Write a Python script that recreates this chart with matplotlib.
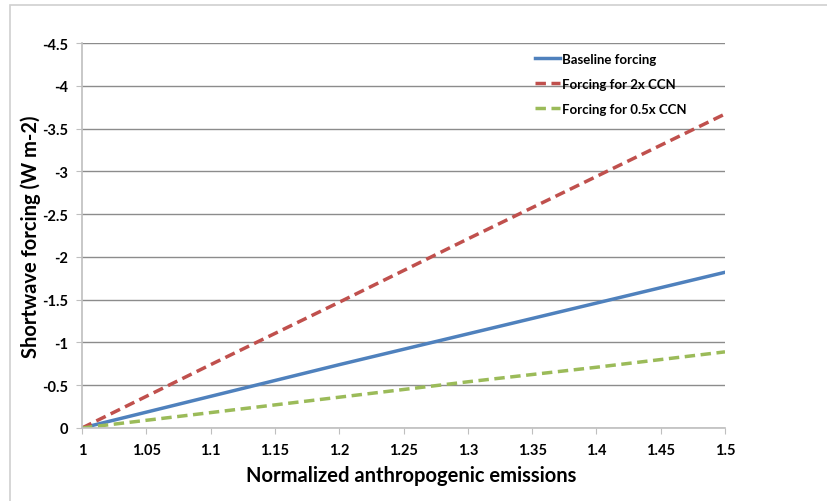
import matplotlib.pyplot as plt
from matplotlib.patches import Rectangle

# data
emissions = [1.0, 1.1, 1.2, 1.3, 1.4, 1.5]
baseline = [0.0, -0.37, -0.74, -1.10, -1.46, -1.82]
ccn_2x = [0.0, -0.74, -1.47, -2.21, -2.94, -3.67]
ccn_half = [0.0, -0.18, -0.36, -0.54, -0.71, -0.89]

plt.rcParams['font.family'] = ['Lato', 'DejaVu Sans']
plt.rcParams['font.weight'] = 'bold'

fig = plt.figure(figsize=(8.27, 5.02), dpi=100)
fig.patches.append(Rectangle((10/827, -0.1), 1.2, 1 - 6/502 + 0.1, transform=fig.transFigure,
                             fill=False, edgecolor='#d0d0d0', linewidth=1.2))
ax = fig.add_axes([82/827, 1 - 429/502, (725 - 82)/827, (429 - 44)/502])

ax.plot(emissions, baseline, color='#4f81bd', linewidth=2.5, label='Baseline forcing')
ax.plot(emissions, ccn_2x, color='#c0504d', linewidth=2.5, linestyle=(0, (3, 1.6)), label='Forcing for 2x CCN')
ax.plot(emissions, ccn_half, color='#9bbb59', linewidth=2.5, linestyle=(0, (3, 1.6)), label='Forcing for 0.5x CCN')

ax.set_xlim(1, 1.5)
ax.set_ylim(0, -4.5)
ax.set_xticks([1 + 0.05*i for i in range(11)])
ax.set_xticklabels(['1', '1.05', '1.1', '1.15', '1.2', '1.25', '1.3', '1.35', '1.4', '1.45', '1.5'])
ax.set_yticks([-0.5*i for i in range(10)])
ax.set_yticklabels(['0', '-0.5', '-1', '-1.5', '-2', '-2.5', '-3', '-3.5', '-4', '-4.5'])
ax.grid(axis='y', color='#8c8c8c', linewidth=1)
ax.set_axisbelow(True)
for s in ['top', 'right']:
    ax.spines[s].set_visible(False)
ax.spines['left'].set_color('#bfbfbf')
ax.spines['bottom'].set_color('#bfbfbf')
ax.spines['left'].set_linewidth(1.2)
ax.spines['bottom'].set_linewidth(1.2)
ax.tick_params(axis='both', colors='#bfbfbf', labelcolor='black', labelsize=10.5, length=4)
ax.tick_params(axis='x', pad=7)
ax.tick_params(axis='y', pad=6)

ax.set_xlabel('Normalized anthropogenic emissions', fontsize=14.5, fontweight='bold', labelpad=7)
ax.set_ylabel('Shortwave forcing (W m-2)', fontsize=14.5, fontweight='bold', labelpad=1)
ax.xaxis.set_label_coords(0.5125, -0.095)

ax.legend(loc='upper left', bbox_to_anchor=(0.686, 1.005), frameon=False, fontsize=9.5,
          handlelength=1.9, handletextpad=0.15, labelspacing=0.98)

plt.savefig('out.png', dpi=100)
